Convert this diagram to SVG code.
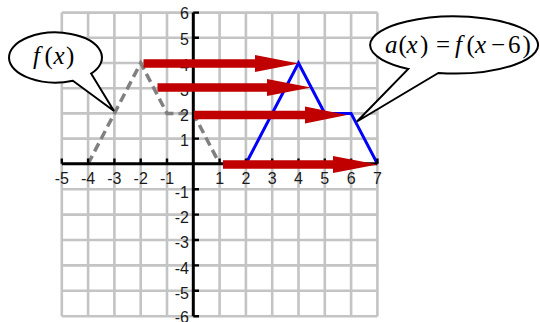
<svg xmlns="http://www.w3.org/2000/svg" width="540" height="322" viewBox="0 0 540 322">
<style>
.grid{stroke:#c4c4c4;stroke-width:2.6;fill:none}
.axis{stroke:#000;stroke-width:3;fill:none}
.tick{stroke:#000;stroke-width:2.4;fill:none}
.lbl{font-family:"Liberation Sans",Arial,sans-serif;font-size:16px;fill:#1a1a1a}
.xl{text-anchor:middle}
.yl{text-anchor:end}
.f{stroke:#808080;stroke-width:3.5;fill:none;stroke-dasharray:9 5}
.a{stroke:#0000ff;stroke-width:3;fill:none;stroke-linejoin:miter}
.arr{fill:#c00000}
.call{fill:#fff;stroke:#000;stroke-width:2}
.eq{font-family:"Liberation Serif","Times New Roman",serif;font-size:25px;fill:#000}
.it{font-style:italic}
</style>
<rect width="540" height="322" fill="#fff"/>
<g id="grid" class="grid">
<path d="M61.8 12.6V316.2M88.1 12.6V316.2M114.4 12.6V316.2M140.7 12.6V316.2M167 12.6V316.2M219.6 12.6V316.2M245.9 12.6V316.2M272.2 12.6V316.2M298.5 12.6V316.2M324.8 12.6V316.2M351.1 12.6V316.2M377.4 12.6V316.2"/>
<path d="M61.8 12.6H377.4M61.8 37.8H377.4M61.8 63H377.4M61.8 88.2H377.4M61.8 113.4H377.4M61.8 138.6H377.4M61.8 189.2H377.4M61.8 214.6H377.4M61.8 240H377.4M61.8 265.4H377.4M61.8 290.8H377.4M61.8 316.2H377.4"/>
</g>
<g id="f-graph">
<polyline class="f" points="88.1,163.8 140.7,63 167,113.4 193.3,113.4 219.6,163.8"/>
</g>
<g id="a-graph">
<polyline class="a" points="245.9,163.8 298.5,63 324.8,113.4 351.1,113.4 377.4,163.8"/>
</g>
<g id="axes">
<path class="axis" d="M61.8 163.8H377.4M193.3 12.6V316.2"/>
<path class="tick" d="M61.8 158.5V163.8M88.1 158.5V163.8M114.4 158.5V163.8M140.7 158.5V163.8M167 158.5V163.8M219.6 158.5V163.8M245.9 158.5V163.8M272.2 158.5V163.8M298.5 158.5V163.8M324.8 158.5V163.8M351.1 158.5V163.8M377.4 158.5V163.8"/>
<path class="tick" d="M193.3 12.6H199M193.3 37.8H199M193.3 63H199M193.3 88.2H199M193.3 113.4H199M193.3 138.6H199M193.3 189.2H199M193.3 214.6H199M193.3 240H199M193.3 265.4H199M193.3 290.8H199M193.3 316.2H199"/>
</g>
<g id="x-labels" class="lbl xl">
<text x="61.8" y="183.5">-5</text>
<text x="88.1" y="183.5">-4</text>
<text x="114.4" y="183.5">-3</text>
<text x="140.7" y="183.5">-2</text>
<text x="167" y="183.5">-1</text>
<text x="219.6" y="183.5">1</text>
<text x="245.9" y="183.5">2</text>
<text x="272.2" y="183.5">3</text>
<text x="298.5" y="183.5">4</text>
<text x="324.8" y="183.5">5</text>
<text x="351.1" y="183.5">6</text>
<text x="377.4" y="183.5">7</text>
</g>
<g id="y-labels" class="lbl yl">
<text x="189" y="19">6</text>
<text x="189" y="45.3">5</text>
<text x="189" y="70.5">4</text>
<text x="189" y="95.7">3</text>
<text x="189" y="120.9">2</text>
<text x="189" y="146.1">1</text>
<text x="189" y="197.6">-1</text>
<text x="189" y="223">-2</text>
<text x="189" y="248.4">-3</text>
<text x="189" y="273.8">-4</text>
<text x="189" y="299.2">-5</text>
<text x="189" y="323">-6</text>
</g>
<g id="connectors">
<polygon class="arr" points="143.5,59.2 255,59.2 255,54.9 298.5,63.5 255,72.1 255,67.8 143.5,67.8"/>
<polygon class="arr" points="157.5,83.2 267,83.2 267,78.9 311,87.5 267,96.1 267,91.8 157.5,91.8"/>
<polygon class="arr" points="194,110.7 305,110.7 305,106.4 347,115 305,123.6 305,119.3 194,119.3"/>
<polygon class="arr" points="223,160.2 333,160.2 333,155.9 377.4,164.5 333,173.1 333,168.8 223,168.8"/>
</g>
<g id="callout-f">
<path class="call" d="M91.1 73.6L114 111L72.9 80.7A46.5 25 0 1 1 91.1 73.6Z"/>
<text class="eq" y="64"><tspan class="it" x="33">f</tspan><tspan x="44.5">(</tspan><tspan class="it" x="53.5">x</tspan><tspan x="66">)</tspan></text>
</g>
<g id="callout-a">
<path class="call" d="M438.3 73L357 121.5L408.3 68.9A84 28.5 0 1 1 438.3 73Z"/>
<text class="eq" y="52.5"><tspan class="it" x="385">a</tspan><tspan x="398.5">(</tspan><tspan class="it" x="406.5">x</tspan><tspan x="420">)</tspan><tspan x="436">=</tspan><tspan class="it" x="455">f</tspan><tspan x="466.5">(</tspan><tspan class="it" x="475">x</tspan><tspan x="491">−</tspan><tspan x="508">6</tspan><tspan x="522.5">)</tspan></text>
</g>
</svg>
